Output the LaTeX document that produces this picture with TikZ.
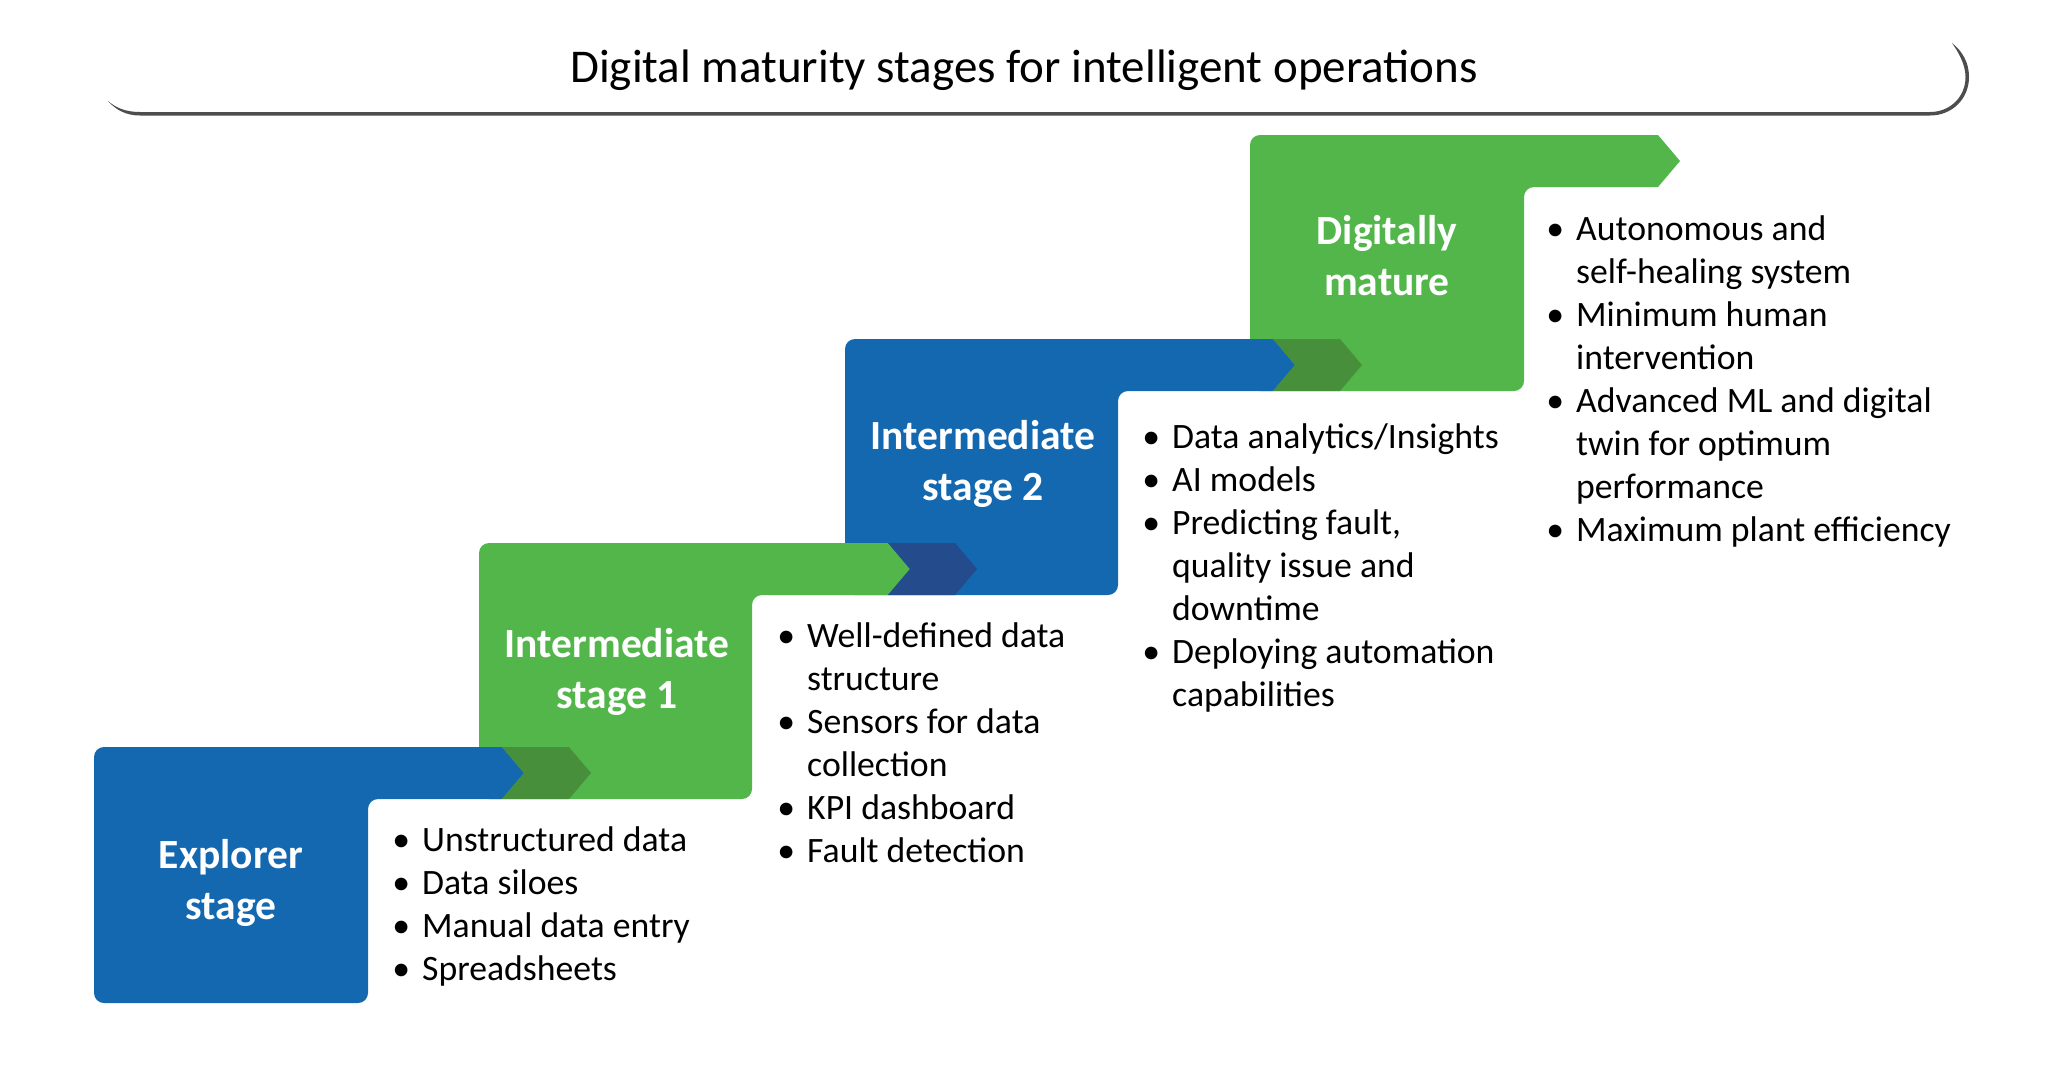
\documentclass[tikz,border=0pt]{standalone}
\usepackage{fontspec}
\setmainfont{Carlito}
\definecolor{sblue}{HTML}{1468B0}
\definecolor{sgreen}{HTML}{52B64B}
\definecolor{dgreen}{HTML}{488F3C}
\definecolor{dblue}{HTML}{244C8D}
\definecolor{barcol}{HTML}{4D4D4F}
% #1 left, #2 top, #3 notch left, #4 arrow start, #5 colour
\newcommand\stagebox[5]{%
  \fill[#5] ({#4+22},{#2+26}) -- ({#4},{#2+52}) -- ({#3+40},{#2+52})
    [rounded corners=10pt] -- ({#3},{#2+52}) -- ({#3},{#2+256}) -- ({#1},{#2+256})
    -- ({#1},{#2}) -- ({#1+40},{#2}) [sharp corners] -- ({#4},{#2}) -- cycle;}
% #1 left, #2 top, #3 colour
\newcommand\chevshape[3]{%
  \fill[#3] ({#1},{#2}) -- ({#1+67},{#2}) -- ({#1+89},{#2+26}) -- ({#1+67},{#2+52})
    -- ({#1},{#2+52}) -- ({#1+22},{#2+26}) -- cycle;}
\newcommand\bul{\makebox[42pt][c]{\textbullet}}
\newcommand\ind{\hspace*{42pt}}
\begin{document}
\begin{tikzpicture}[x=1pt,y=-1pt,
  stagelabel/.style={text=white, font=\fontsize{41.5}{51}\selectfont\bfseries, align=center, inner sep=0pt},
  bulletlist/.style={anchor=base west, inner sep=0pt, font=\fontsize{35.7}{43}\selectfont},
  titletext/.style={anchor=base, inner sep=0pt, font=\fontsize{47}{56}\selectfont}]
\useasboundingbox[fill=white] (0,0) rectangle (2048,1076);
% title bar
\fill[barcol] (108,101) .. controls (116,110) and (126,115.5) .. (140,115.5) -- (1930,115.5)
  .. controls (1952,115.5) and (1969,99) .. (1969,77)
  .. controls (1969,62) and (1962,51) .. (1952,43)
  .. controls (1959,53) and (1965.5,65) .. (1965.5,77)
  .. controls (1965.5,97) and (1950,112) .. (1930,112) -- (140,112)
  .. controls (126,112) and (116,108) .. (108,101) -- cycle;
\node[titletext] (title) at (1024,82) {Digital maturity stages for intelligent operations};
% stage boxes (top first, so lower bands overlap)
\stagebox{1250}{135}{1524}{1658}{sgreen}
\stagebox{845}{339}{1118}{1273}{sblue}
\stagebox{479}{543}{752}{888}{sgreen}
\stagebox{94}{747}{368}{502}{sblue}
% chevrons
\chevshape{502}{747}{dgreen}
\chevshape{888}{543}{dblue}
\chevshape{1273}{339}{dgreen}
% labels
\node[stagelabel] (s0) at (231,883) {Explorer\\stage};
\node[stagelabel] (s1) at (617,672) {Intermediate\\stage 1};
\node[stagelabel] (s2) at (983,464) {Intermediate\\stage 2};
\node[stagelabel] (s3) at (1387,256) {Digitally\\mature};
% lists
\node[bulletlist] (l0) at (380,851) {\begin{tabular}[t]{@{}l@{}}
\bul Unstructured data\\
\bul Data siloes\\
\bul Manual data entry\\
\bul Spreadsheets
\end{tabular}};
\node[bulletlist] (l1) at (765,647) {\begin{tabular}[t]{@{}l@{}}
\bul Well-defined data\\
\ind structure\\
\bul Sensors for data\\
\ind collection\\
\bul KPI dashboard\\
\bul Fault detection
\end{tabular}};
\node[bulletlist] (l2) at (1130,448) {\begin{tabular}[t]{@{}l@{}}
\bul Data analytics/Insights\\
\bul AI models\\
\bul Predicting fault,\\
\ind quality issue and\\
\ind downtime\\
\bul Deploying automation\\
\ind capabilities
\end{tabular}};
\node[bulletlist] (l3) at (1534,240) {\begin{tabular}[t]{@{}l@{}}
\bul Autonomous and\\
\ind self-healing system\\
\bul Minimum human\\
\ind intervention\\
\bul Advanced ML and digital\\
\ind twin for optimum\\
\ind performance\\
\bul Maximum plant efficiency
\end{tabular}};
\end{tikzpicture}
\end{document}
